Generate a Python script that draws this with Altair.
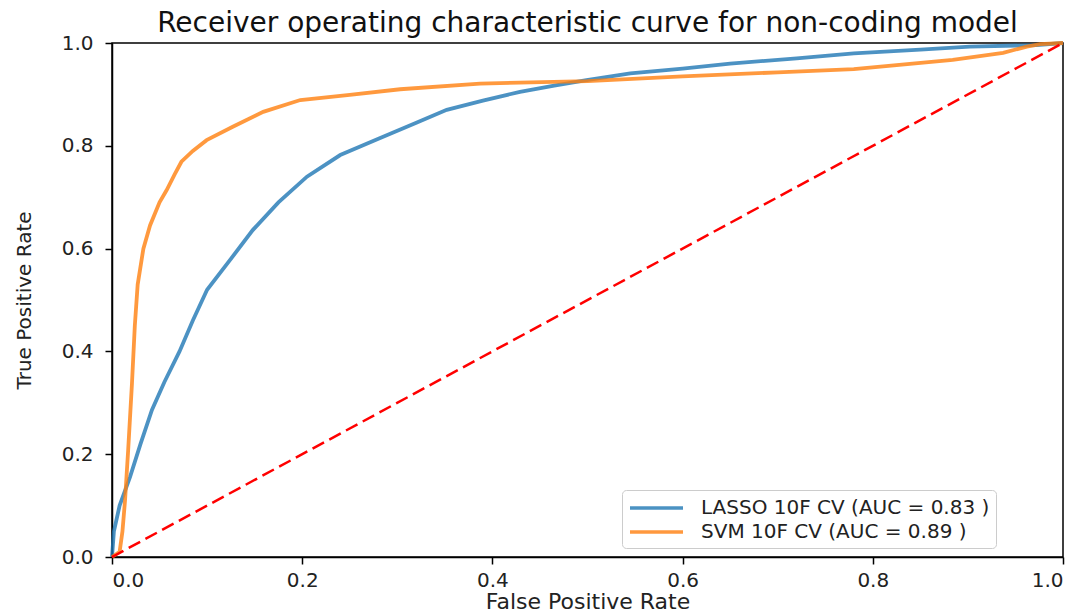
import altair as alt
import pandas as pd

# ROC curve points for the two classifiers (false positive rate, true positive rate)
lasso_fpr = [0.0, 0.002, 0.008, 0.019, 0.030, 0.042, 0.055, 0.071, 0.085, 0.100,
             0.125, 0.148, 0.175, 0.205, 0.240, 0.282, 0.320, 0.352, 0.390, 0.429,
             0.465, 0.499, 0.545, 0.600, 0.650, 0.720, 0.780, 0.850, 0.902, 0.972, 1.0]
lasso_tpr = [0.0, 0.050, 0.100, 0.156, 0.220, 0.286, 0.340, 0.400, 0.460, 0.520,
             0.580, 0.636, 0.690, 0.740, 0.782, 0.815, 0.845, 0.870, 0.888, 0.905,
             0.917, 0.928, 0.941, 0.950, 0.960, 0.970, 0.980, 0.987, 0.993, 0.996, 1.0]

svm_fpr = [0.0, 0.008, 0.011, 0.0137, 0.017, 0.021, 0.024, 0.027, 0.033, 0.040,
           0.050, 0.0575, 0.066, 0.073, 0.085, 0.0995, 0.127, 0.159, 0.198, 0.250,
           0.303, 0.387, 0.500, 0.600, 0.700, 0.780, 0.884, 0.937, 0.962, 0.976, 1.0]
svm_tpr = [0.0, 0.010, 0.050, 0.110, 0.208, 0.338, 0.450, 0.530, 0.600, 0.645,
           0.690, 0.714, 0.745, 0.769, 0.790, 0.811, 0.837, 0.866, 0.889, 0.899,
           0.910, 0.921, 0.926, 0.935, 0.943, 0.949, 0.967, 0.981, 0.993, 0.998, 1.0]

series_names = ["LASSO 10F CV (AUC = 0.83 )", "SVM 10F CV (AUC = 0.89 )"]
series_colors = ["#1f77b4", "#ff7f0e"]

chance_x = [0.0, 1.0]
chance_y = [0.0, 1.0]

ticks = [0.0, 0.2, 0.4, 0.6, 0.8, 1.0]

roc = pd.concat([
    pd.DataFrame({"fpr": lasso_fpr, "tpr": lasso_tpr, "model": series_names[0],
                  "order": range(len(lasso_fpr))}),
    pd.DataFrame({"fpr": svm_fpr, "tpr": svm_tpr, "model": series_names[1],
                  "order": range(len(svm_fpr))}),
])
chance = pd.DataFrame({"fpr": chance_x, "tpr": chance_y})

FONT = "DejaVu Sans"

x_enc = alt.X("fpr:Q", scale=alt.Scale(domain=[0, 1], nice=False, zero=False),
              axis=alt.Axis(title="False Positive Rate", values=ticks, format=".1f"))
y_enc = alt.Y("tpr:Q", scale=alt.Scale(domain=[0, 1], nice=False, zero=False),
              axis=alt.Axis(title="True Positive Rate", values=ticks, format=".1f"))

# legend swatch: a horizontal line segment starting at the symbol's left edge
swatch = "M-1,0L4.3,0"

curves = alt.Chart(roc).mark_line(strokeWidth=3.8, opacity=0.8).encode(
    x=x_enc,
    y=y_enc,
    order="order:Q",
    color=alt.Color(
        "model:N",
        scale=alt.Scale(domain=series_names, range=series_colors),
        legend=alt.Legend(
            title=None,
            orient="none",
            legendX=510,
            legendY=447,
            symbolType=swatch,
            symbolSize=400,
            symbolStrokeWidth=3.5,
            symbolOpacity=0.8,
            labelFontSize=20,
            labelFont=FONT,
            labelColor="#222222",
            labelLimit=600,
            labelOffset=49,
            rowPadding=2,
            padding=6,
            fillColor="white",
            strokeColor="#cccccc",
            cornerRadius=4,
        ),
    ),
)

diagonal = alt.Chart(chance).mark_line(
    color="red", strokeWidth=2.5, strokeDash=[13, 6]
).encode(x="fpr:Q", y="tpr:Q")

chart = (
    alt.layer(curves, diagonal)
    .properties(
        width=951,
        height=514,
        title=alt.TitleParams(
            text="Receiver operating characteristic curve for non-coding model",
            font=FONT,
            fontSize=28,
            fontWeight="normal",
            color="#111111",
            anchor="middle",
            offset=-5,
        ),
        autosize=alt.AutoSizeParams(type="none"),
        padding={"left": 112, "top": 43, "right": 23, "bottom": 58},
    )
    .configure_view(stroke="black", strokeWidth=1.5)
    .configure_axis(
        grid=False,
        domainColor="black",
        domainWidth=1.5,
        tickColor="black",
        tickWidth=1.5,
        tickSize=7,
        labelFont=FONT,
        labelFontSize=20,
        labelColor="#222222",
        titleFont=FONT,
        titleFontWeight="normal",
        titleColor="#222222",
    )
    .configure_axisX(titleFontSize=22, titlePadding=1, labelPadding=6)
    .configure_axisY(titleFontSize=20, titlePadding=27, labelPadding=12)
)

chart.save("out.html", embed_options={"renderer": "svg", "actions": False})
